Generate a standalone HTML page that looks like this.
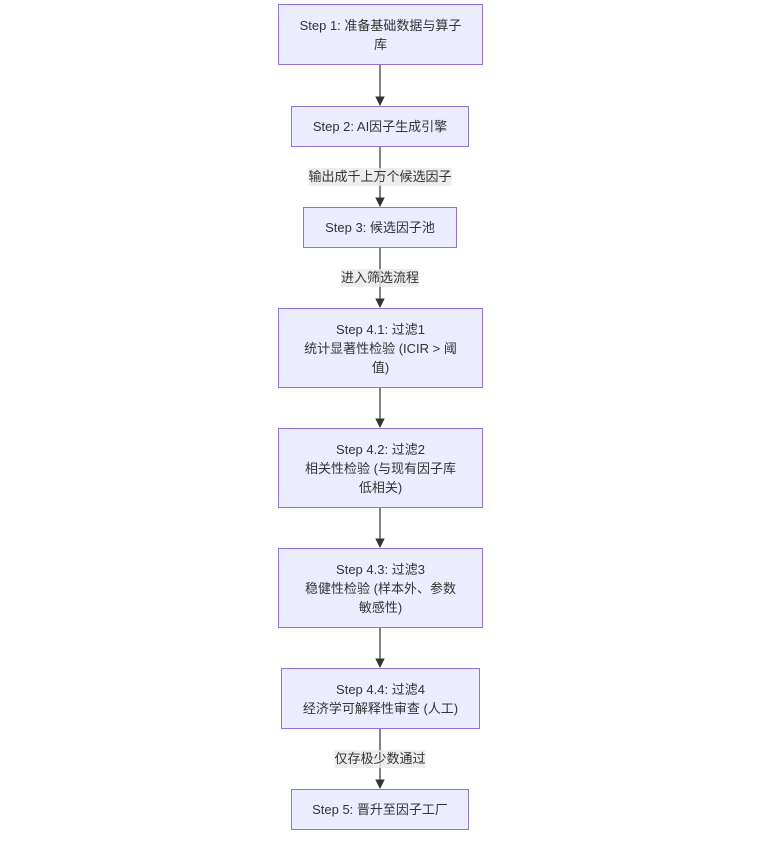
<!DOCTYPE html>
<html><head><meta charset="utf-8"><style>
body{margin:0;width:760px;height:842px;background:#fff;position:relative;overflow:hidden;font-family:"Liberation Sans","Noto Sans CJK SC",sans-serif;font-size:13px;color:#333;}
.n{position:absolute;box-sizing:border-box;background:#ECECFF;border:1px solid #9370DB;display:flex;align-items:center;justify-content:center;text-align:center;line-height:19px;padding:0 10px;}
.l{position:absolute;background:rgba(232,232,232,0.8);line-height:18px;transform:translateX(-50%);white-space:nowrap;}
svg{position:absolute;left:0;top:0;}
</style></head><body>
<svg width="760" height="842">
<defs><marker id="a" viewBox="0 0 10 10" refX="9" refY="5" markerWidth="8" markerHeight="8" orient="auto"><path d="M0,0L10,5L0,10z" fill="#333"/></marker></defs>
<g stroke="#333" stroke-width="1.2" marker-end="url(#a)">
<line x1="380" y1="65" x2="380" y2="105"/>
<line x1="380" y1="147" x2="380" y2="206"/>
<line x1="380" y1="248" x2="380" y2="307"/>
<line x1="380" y1="388" x2="380" y2="427"/>
<line x1="380" y1="508" x2="380" y2="547"/>
<line x1="380" y1="628" x2="380" y2="667"/>
<line x1="380" y1="729" x2="380" y2="788"/>
</g></svg>
<div class="n" style="left:278px;top:4px;width:205px;height:61px">Step 1: 准备基础数据与算子<br>库</div>
<div class="n" style="left:291px;top:106px;width:178px;height:41px">Step 2: AI因子生成引擎</div>
<div class="l" style="left:380px;top:168px">输出成千上万个候选因子</div>
<div class="n" style="left:303px;top:207px;width:154px;height:41px">Step 3: 候选因子池</div>
<div class="l" style="left:380px;top:269px">进入筛选流程</div>
<div class="n" style="left:278px;top:308px;width:205px;height:80px">Step 4.1: 过滤1<br>统计显著性检验 (ICIR &gt; 阈<br>值)</div>
<div class="n" style="left:278px;top:428px;width:205px;height:80px">Step 4.2: 过滤2<br>相关性检验 (与现有因子库<br>低相关)</div>
<div class="n" style="left:278px;top:548px;width:205px;height:80px">Step 4.3: 过滤3<br>稳健性检验 (样本外、参数<br>敏感性)</div>
<div class="n" style="left:281px;top:668px;width:199px;height:61px">Step 4.4: 过滤4<br>经济学可解释性审查 (人工)</div>
<div class="l" style="left:380px;top:750px">仅存极少数通过</div>
<div class="n" style="left:291px;top:789px;width:178px;height:41px">Step 5: 晋升至因子工厂</div>
</body></html>
